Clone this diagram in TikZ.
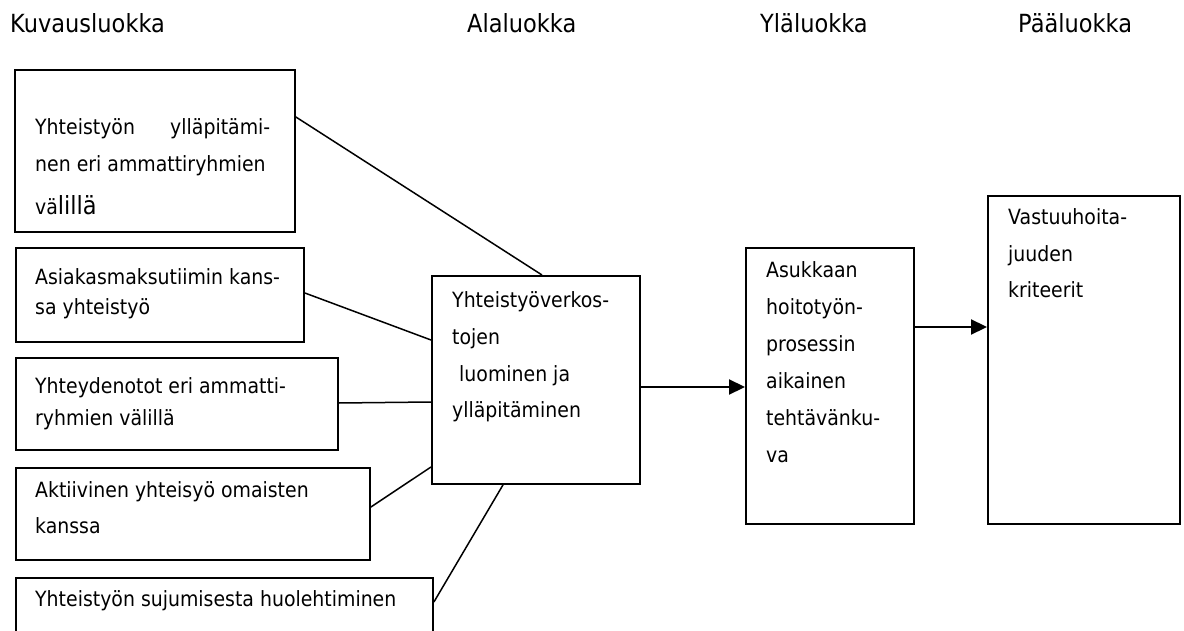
\documentclass[tikz,border=0pt]{standalone}
\usepackage{fontspec}
\setmainfont[FakeStretch=0.9]{DejaVu Sans}
\usetikzlibrary{arrows.meta}
\newcommand\bodyfont{\fontsize{21}{25}\selectfont}
\newcommand\headfont{\fontsize{25}{29}\selectfont}
\begin{document}
\begin{tikzpicture}[x=1pt,y=-1pt,
  catbox/.style={draw, line width=1.9pt, rectangle, inner sep=0pt, anchor=north west},
  txt/.style={anchor=base west, inner sep=0pt, font=\bodyfont},
  head/.style={anchor=base west, inner sep=0pt, font=\headfont},
  conn/.style={line width=1.5pt},
  arr/.style={line width=2.2pt, -{Triangle[length=16pt,width=15pt]}}]
\clip (0,0) rectangle (1184,631);
\fill[white] (0,0) rectangle (1184,631);
% headers
\node[head] (h1) at (10,33) {Kuvausluokka};
\node[head] (h2) at (467,33) {Alaluokka};
\node[head] (h3) at (760,33) {Yläluokka};
\node[head] (h4) at (1018,33) {Pääluokka};
% boxes
\node[catbox, minimum width=280pt, minimum height=162pt] (a) at (14,69) {};
\node[catbox, minimum width=288pt, minimum height=94pt] (b) at (15,247) {};
\node[catbox, minimum width=322pt, minimum height=92pt] (c) at (15,357) {};
\node[catbox, minimum width=354pt, minimum height=92pt] (d) at (15,467) {};
\node[catbox, minimum width=417pt, minimum height=80pt] (e) at (15,577) {};
\node[catbox, minimum width=208pt, minimum height=208pt] (m) at (431,275) {};
\node[catbox, minimum width=168pt, minimum height=276pt] (yl) at (745,247) {};
\node[catbox, minimum width=192pt, minimum height=328pt] (pl) at (987,195) {};
% texts
\node[txt] (ta) at (35,135) {\vtop{\baselineskip=37pt \hbox to 235pt{Yhteistyön\hfill ylläpitämi-}\hbox{nen eri ammattiryhmien}\vskip6pt\hbox{vä{\fontsize{25}{25}\selectfont lillä}}}};
\node[txt] (tb) at (35,285) {\vtop{\baselineskip=30pt \hbox{Asiakasmaksutiimin kans-}\hbox{sa yhteistyö}}};
\node[txt] (tc) at (35,393) {\vtop{\baselineskip=32pt \hbox{Yhteydenotot eri ammatti-}\hbox{ryhmien välillä}}};
\node[txt] (td) at (35,497) {\vtop{\baselineskip=36pt \hbox{Aktiivinen yhteisyö omaisten}\hbox{kanssa}}};
\node[txt] (te) at (35,606) {Yhteistyön sujumisesta huolehtiminen};
\node[txt] (tm) at (452,307) {\vtop{\baselineskip=37pt \hbox{Yhteistyöverkos-}\hbox{tojen}\hbox{\hspace{7pt}luominen ja}\hbox{ylläpitäminen}}};
\node[txt] (ty) at (766,277) {\vtop{\baselineskip=37.2pt \hbox{Asukkaan}\hbox{hoitotyön-}\hbox{prosessin}\hbox{aikainen}\hbox{tehtävänku-}\hbox{va}}};
\node[txt] (tp) at (1008,225) {\vtop{\baselineskip=36.5pt \hbox{Vastuuhoita-}\hbox{juuden}\hbox{kriteerit}}};
% connectors
\draw[conn] ([yshift=-48pt]a.north east) -- ([xshift=111pt]m.north west);
\draw[conn] ([yshift=-46pt]b.north east) -- ([yshift=-65pt]m.north west);
\draw[conn] ([yshift=-46pt]c.north east) -- ([yshift=-127pt]m.north west);
\draw[conn] ([yshift=-40pt]d.north east) -- ([yshift=-192pt]m.north west);
\draw[conn] ([yshift=-25pt]e.north east) -- ([xshift=72pt]m.south west);
\draw[arr] ([yshift=-112pt]m.north east) -- ([yshift=-112pt]m.north east -| yl.west);
\draw[arr] ([yshift=-80pt]yl.north east) -- ([yshift=-80pt]yl.north east -| pl.west);
\end{tikzpicture}
\end{document}
